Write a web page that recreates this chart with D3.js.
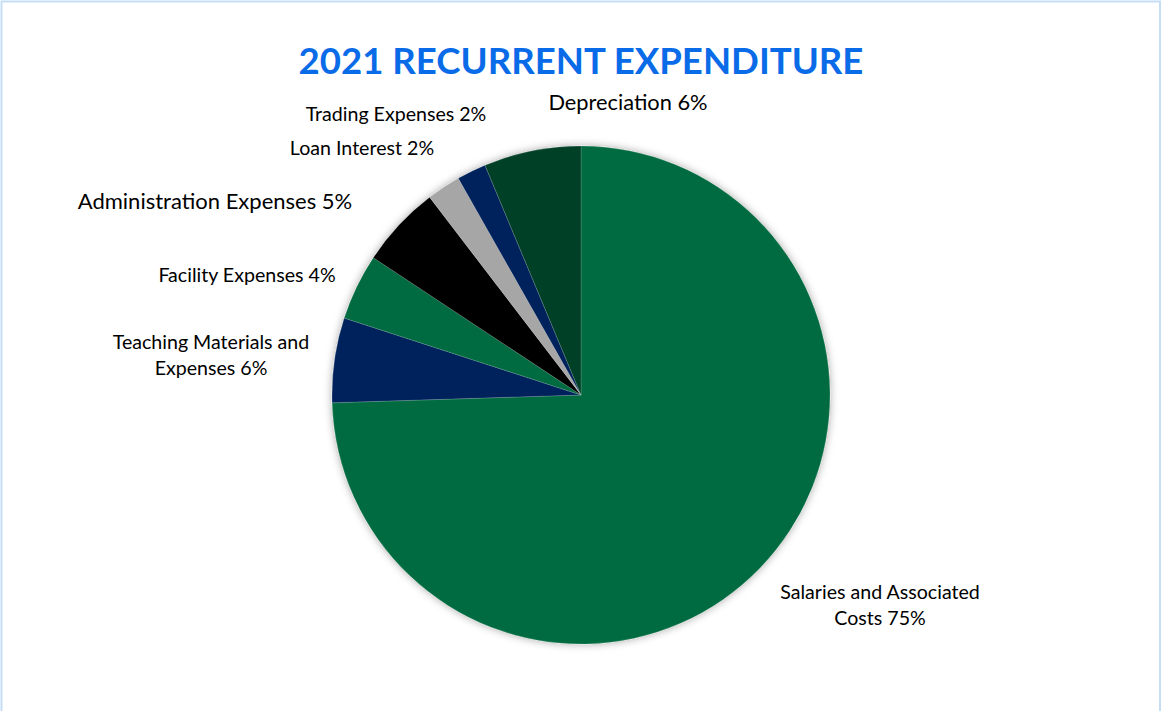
<!DOCTYPE html>
<html>
<head>
<meta charset="utf-8">
<script src="https://cdn.jsdelivr.net/npm/d3@7/dist/d3.min.js"></script>
<style>
  body { margin: 0; background: #fff; }
  svg { display: block; }
  text { font-family: "Lato", "Open Sans", sans-serif; fill: #000; }
  .title { font-weight: 700; fill: #0A6BE8; }
</style>
</head>
<body>
<svg id="chart"></svg>
<script>
const width = 1161, height = 711

// data, clockwise from 12 o'clock
const categories = ["Salaries and Associated Costs", "Teaching Materials and Expenses", "Facility Expenses",
  "Administration Expenses", "Loan Interest", "Trading Expenses", "Depreciation"]
const values = [74.5, 5.5, 4.3, 5.3, 2.2, 1.9, 6.3]
const colours = ["#006A3F", "#00245C", "#006A3F", "#000000", "#A6A6A6", "#00245C", "#003F26"]

// label lines (how the text wraps) and where each label sits
const label_lines = [["Salaries and Associated", "Costs"], ["Teaching Materials and", "Expenses"], ["Facility Expenses"],
  ["Administration Expenses"], ["Loan Interest"], ["Trading Expenses"], ["Depreciation"]]
const label_pos = [[880, 599], [211, 349], [247, 282], [215, 209], [362, 155], [396, 121], [628, 110]]
const label_size = [19.6, 19.6, 19.6, 22, 19.6, 19.6, 21.8]
const line_gap = 26

const cx = 581, cy = 395, radius = 249
const total = d3.sum(values)

const svg = d3.select("#chart").attr("width", width).attr("height", height)

svg.append("rect")
  .attr("x", 1.5).attr("y", 1.5)
  .attr("width", width - 2.5).attr("height", height)
  .attr("fill", "none").attr("stroke", "#C6DDF7").attr("stroke-width", 2)

const defs = svg.append("defs")
const shadow = defs.append("filter").attr("id", "shadow")
  .attr("x", "-10%").attr("y", "-10%").attr("width", "120%").attr("height", "120%")
shadow.append("feDropShadow")
  .attr("dx", 0).attr("dy", 0).attr("stdDeviation", 4)
  .attr("flood-color", "#000").attr("flood-opacity", 0.35)

svg.append("text").classed("title", true)
  .attr("x", cx).attr("y", 74)
  .attr("text-anchor", "middle")
  .style("font-size", "36.6px")
  .text("2021 RECURRENT EXPENDITURE")

const pie = d3.pie().sort(null).value((d) => d)
const arc = d3.arc().innerRadius(0).outerRadius(radius)
const arcs = pie(values)

const g = svg.append("g").attr("transform", `translate(${cx},${cy})`)

g.append("g").attr("filter", "url(#shadow)")
  .selectAll("path.slice")
  .data(arcs).enter().append("path")
  .classed("slice", true)
  .attr("d", arc)
  .attr("fill", (d, i) => colours[i])
  .attr("stroke", "rgba(255,255,255,0.25)")
  .attr("stroke-width", 0.6)

// data labels
const labels = svg.append("g").classed("labels", true)
arcs.forEach((d, i) => {
  const pct = Math.round(values[i] * 100 / total) + "%"
  const lines = label_lines[i].slice()
  lines[lines.length - 1] += " " + pct
  const t = labels.append("text")
    .attr("text-anchor", "middle")
    .attr("x", label_pos[i][0])
    .attr("y", label_pos[i][1])
    .style("font-size", label_size[i] + "px")
  lines.forEach((line, j) => {
    t.append("tspan")
      .attr("x", label_pos[i][0])
      .attr("dy", j == 0 ? 0 : line_gap)
      .text(line)
  })
})
</script>
</body>
</html>
